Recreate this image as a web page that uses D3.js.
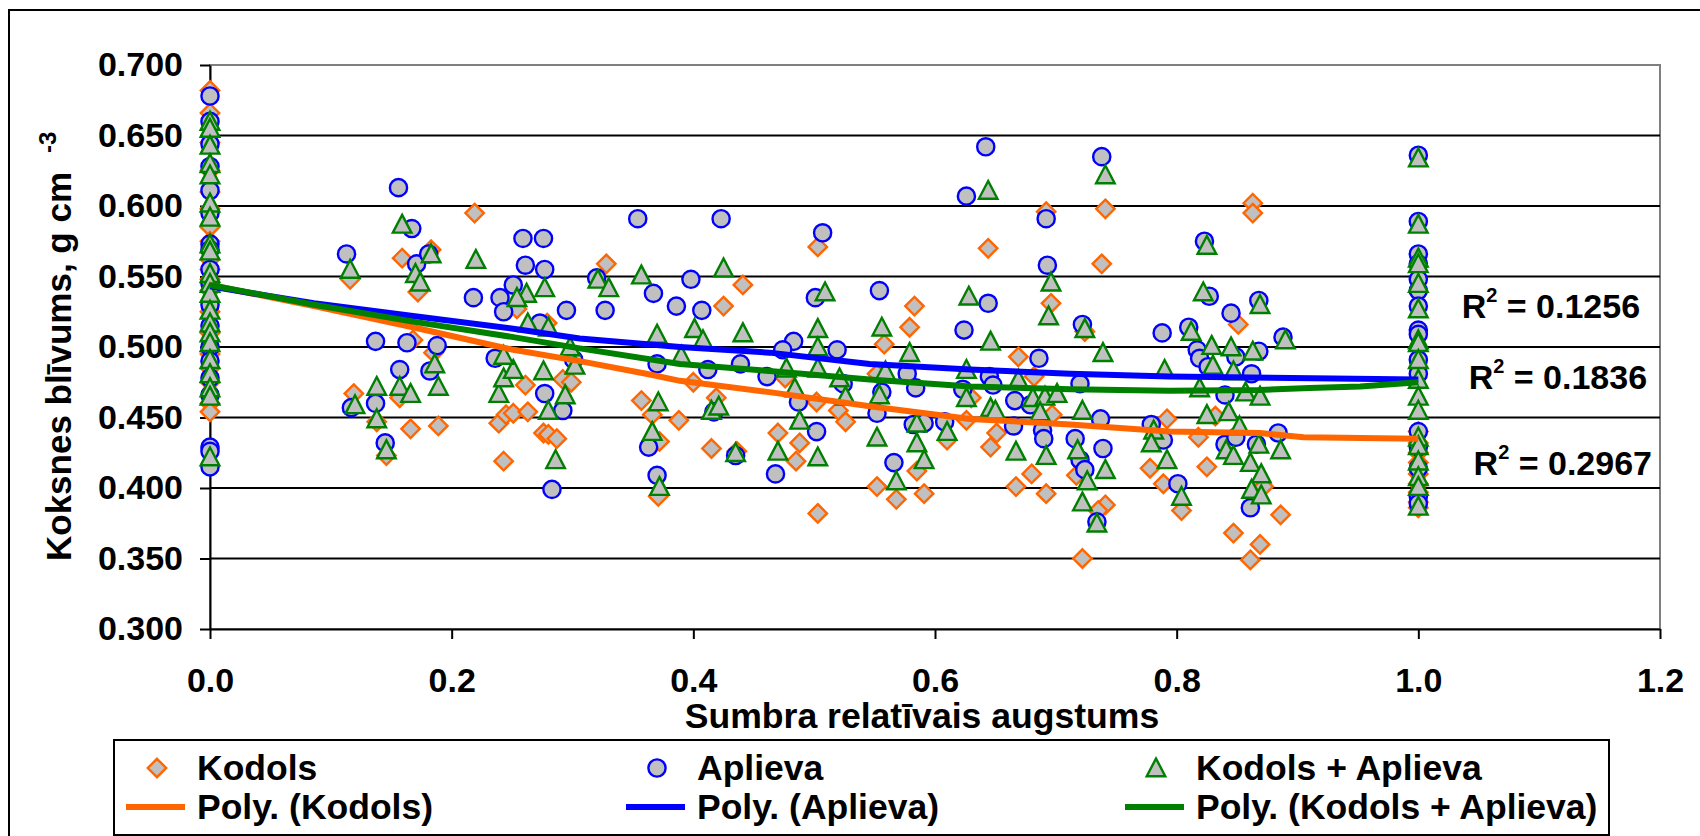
<!DOCTYPE html>
<html>
<head>
<meta charset="utf-8">
<title>Koksnes blīvums pa sumbra augstumu</title>
<script src="https://d3js.org/d3.v7.min.js"></script>
<style>
  body { margin: 0; background: #fff; }
  svg text { font-family: "Liberation Sans", Arial, sans-serif; font-weight: bold; fill: #000; }
</style>
</head>
<body>
<svg width="1700" height="836"></svg>
<script>
// --- data: [relative height, density g/cm3] ---
var kodols = [
  [0,0.682],[0,0.666],[0,0.645],[0,0.625],[0,0.610],[0,0.598],[0,0.585],[0,0.575],[0,0.562],[0,0.555],
  [0,0.548],[0,0.540],[0,0.525],[0,0.510],[0,0.495],[0,0.485],[0,0.475],[0,0.460],[0,0.454],
  [0.219,0.595],[0.159,0.563],[0.183,0.569],[0.172,0.539],[0.116,0.548],[0.254,0.527],[0.328,0.559],
  [0.279,0.517],[0.168,0.505],
  [0.119,0.467],[0.138,0.447],[0.146,0.423],[0.157,0.464],[0.166,0.442],[0.189,0.444],[0.185,0.496],
  [0.239,0.446],[0.245,0.452],[0.251,0.453],[0.263,0.454],[0.243,0.419],[0.261,0.473],[0.276,0.439],
  [0.280,0.438],[0.287,0.435],[0.292,0.477],[0.299,0.475],[0.357,0.462],[0.366,0.452],[0.372,0.433],
  [0.371,0.394],[0.388,0.448],
  [0.441,0.544],[0.425,0.529],[0.503,0.571],[0.583,0.529],[0.579,0.514],[0.644,0.570],[0.692,0.596],
  [0.696,0.531],[0.741,0.598],[0.738,0.559],[0.724,0.511],[0.558,0.502],
  [0.400,0.475],[0.419,0.464],[0.415,0.428],[0.436,0.426],[0.470,0.439],[0.488,0.432],[0.485,0.419],
  [0.503,0.382],[0.476,0.478],[0.502,0.461],[0.520,0.455],[0.526,0.447],[0.552,0.481],[0.552,0.401],
  [0.568,0.392],[0.585,0.412],[0.591,0.396],[0.610,0.434],[0.626,0.448],[0.630,0.464],[0.646,0.429],
  [0.651,0.439],[0.669,0.493],[0.682,0.479],[0.667,0.401],[0.680,0.410],[0.692,0.396],[0.722,0.350],
  [0.741,0.388],[0.735,0.384],[0.778,0.414],[0.789,0.403],[0.792,0.449],[0.717,0.409],[0.697,0.452],
  [0.863,0.602],[0.863,0.595],[0.851,0.516],[0.818,0.436],[0.825,0.415],[0.832,0.451],[0.804,0.384],
  [0.847,0.368],[0.869,0.360],[0.861,0.349],[0.886,0.381],[0.872,0.401],
  [1,0.440],[1,0.432],[1,0.425],[1,0.418],[1,0.410],[1,0.403],[1,0.397],[1,0.390],[1,0.386]
];

var aplieva = [
  [0,0.678],[0,0.660],[0,0.644],[0,0.628],[0,0.611],[0,0.595],[0,0.573],[0,0.569],[0,0.555],[0,0.545],
  [0,0.530],[0,0.515],[0,0.500],[0,0.490],[0,0.478],[0,0.466],[0,0.429],[0,0.426],[0,0.415],
  [0.156,0.613],[0.167,0.584],[0.113,0.566],[0.171,0.559],[0.181,0.566],[0.218,0.535],[0.240,0.535],
  [0.243,0.525],[0.251,0.544],[0.259,0.577],[0.276,0.577],[0.261,0.558],[0.277,0.555],[0.295,0.526],
  [0.320,0.549],[0.327,0.526],[0.354,0.591],[0.367,0.538],[0.386,0.529],[0.273,0.517],[0.137,0.504],
  [0.163,0.503],[0.188,0.501],
  [0.157,0.484],[0.182,0.483],[0.117,0.457],[0.137,0.460],[0.145,0.432],[0.236,0.492],[0.277,0.467],
  [0.292,0.455],[0.283,0.399],[0.370,0.488],[0.363,0.429],[0.370,0.409],[0.301,0.491],
  [0.423,0.591],[0.398,0.548],[0.407,0.526],[0.507,0.581],[0.501,0.535],[0.554,0.540],[0.626,0.607],
  [0.642,0.642],[0.644,0.531],[0.624,0.512],[0.692,0.591],[0.693,0.558],[0.722,0.516],[0.738,0.635],
  [0.788,0.510],[0.483,0.504],[0.474,0.498],[0.519,0.498],
  [0.412,0.484],[0.439,0.488],[0.417,0.454],[0.435,0.423],[0.468,0.410],[0.461,0.479],[0.487,0.461],
  [0.502,0.440],[0.524,0.474],[0.552,0.453],[0.556,0.468],[0.566,0.418],[0.577,0.481],[0.584,0.471],
  [0.582,0.445],[0.591,0.446],[0.608,0.447],[0.623,0.470],[0.645,0.479],[0.648,0.473],[0.666,0.462],
  [0.665,0.444],[0.679,0.459],[0.686,0.492],[0.689,0.441],[0.690,0.435],[0.716,0.435],[0.720,0.474],
  [0.720,0.420],[0.724,0.413],[0.737,0.449],[0.739,0.428],[0.734,0.376],[0.779,0.445],
  [0.823,0.575],[0.827,0.536],[0.868,0.533],[0.845,0.524],[0.810,0.514],[0.888,0.507],[0.817,0.498],
  [0.819,0.492],[0.826,0.486],[0.849,0.493],[0.862,0.481],[0.868,0.497],[0.884,0.439],[0.840,0.466],
  [0.840,0.431],[0.849,0.436],[0.866,0.431],[0.801,0.403],[0.861,0.386],[0.789,0.434],
  [1,0.636],[1,0.589],[1,0.566],[1,0.559],[1,0.548],[1,0.540],[1,0.529],[1,0.512],[1,0.509],[1,0.491],
  [1,0.481],[1,0.440],[1,0.429],[1,0.414],[1,0.394],[1,0.389]
];

var kodolsAplieva = [
  [0,0.660],[0,0.655],[0,0.643],[0,0.630],[0,0.622],[0,0.602],[0,0.592],[0,0.573],[0,0.568],[0,0.552],
  [0,0.545],[0,0.538],[0,0.526],[0,0.517],[0,0.510],[0,0.503],[0,0.491],[0,0.481],[0,0.471],[0,0.465],
  [0,0.422],
  [0.159,0.587],[0.183,0.566],[0.116,0.555],[0.170,0.552],[0.174,0.546],[0.220,0.562],[0.262,0.538],
  [0.254,0.535],[0.277,0.542],[0.321,0.548],[0.330,0.542],[0.357,0.551],[0.263,0.517],[0.280,0.514],
  [0.370,0.509],[0.298,0.500],
  [0.120,0.459],[0.138,0.472],[0.138,0.449],[0.146,0.427],[0.157,0.472],[0.166,0.467],[0.186,0.488],
  [0.189,0.472],[0.239,0.467],[0.243,0.478],[0.251,0.484],[0.243,0.494],[0.276,0.483],[0.280,0.455],
  [0.286,0.420],[0.294,0.466],[0.302,0.487],[0.366,0.440],[0.371,0.461],[0.372,0.401],
  [0.425,0.556],[0.401,0.513],[0.408,0.505],[0.441,0.510],[0.509,0.539],[0.503,0.513],[0.556,0.514],
  [0.628,0.536],[0.644,0.611],[0.646,0.504],[0.696,0.546],[0.694,0.522],[0.724,0.513],[0.741,0.622],
  [0.390,0.494],[0.415,0.455],[0.421,0.458],[0.435,0.425],[0.470,0.426],[0.477,0.485],[0.484,0.471],
  [0.488,0.448],[0.503,0.422],[0.503,0.485],[0.503,0.500],[0.521,0.478],[0.526,0.465],[0.552,0.436],
  [0.554,0.466],[0.559,0.483],[0.568,0.405],[0.579,0.496],[0.585,0.446],[0.585,0.432],[0.591,0.420],
  [0.610,0.440],[0.626,0.484],[0.626,0.464],[0.646,0.457],[0.650,0.455],[0.667,0.426],[0.669,0.477],
  [0.681,0.464],[0.691,0.465],[0.687,0.454],[0.692,0.423],[0.701,0.467],[0.722,0.455],[0.718,0.427],
  [0.726,0.405],[0.722,0.390],[0.734,0.375],[0.741,0.413],[0.739,0.496],[0.781,0.441],[0.779,0.432],
  [0.790,0.484],
  [0.825,0.572],[0.822,0.539],[0.869,0.530],[0.812,0.511],[0.890,0.505],[0.829,0.501],[0.845,0.500],
  [0.863,0.497],[0.830,0.487],[0.847,0.483],[0.819,0.471],[0.857,0.468],[0.869,0.465],[0.825,0.452],
  [0.843,0.454],[0.852,0.444],[0.841,0.427],[0.868,0.431],[0.847,0.423],[0.861,0.418],[0.870,0.410],
  [0.862,0.399],[0.870,0.395],[0.886,0.427],[0.804,0.394],[0.792,0.420],
  [1,0.634],[1,0.587],[1,0.563],[1,0.559],[1,0.545],[1,0.527],[1,0.505],[1,0.503],[1,0.491],[1,0.477],
  [1,0.465],[1,0.455],[1,0.436],[1,0.430],[1,0.419],[1,0.408],[1,0.401],[1,0.387]
];

// polynomial trend lines as drawn in the chart
var kodolsTrend = [[0,0.544],[0.086,0.529],[0.168,0.514],[0.251,0.498],[0.306,0.490],[0.361,0.481],
  [0.389,0.476],[0.463,0.468],[0.546,0.458],[0.629,0.449],[0.712,0.445],[0.794,0.440],[0.869,0.439],
  [0.905,0.436],[1,0.435]];
var aplievaTrend = [[0,0.543],[0.086,0.531],[0.168,0.522],[0.251,0.513],[0.306,0.506],[0.389,0.500],
  [0.463,0.496],[0.546,0.488],[0.629,0.484],[0.712,0.481],[0.794,0.479],[1,0.477]];
var kodolsAplievaTrend = [[0,0.544],[0.086,0.530],[0.168,0.518],[0.251,0.507],[0.306,0.499],
  [0.389,0.488],[0.463,0.483],[0.546,0.477],[0.629,0.472],[0.712,0.470],[0.794,0.469],[0.869,0.4695],
  [0.910,0.471],[0.952,0.472],[1,0.475]];

var rSquared = ["0.1256", "0.1836", "0.2967"];
var rLabelPos = [[1.1835, 0.5206], [1.1893, 0.4702], [1.1934, 0.4092]];

var xTickValues = [0, 0.2, 0.4, 0.6, 0.8, 1.0, 1.2];
var yTickValues = [0.3, 0.35, 0.4, 0.45, 0.5, 0.55, 0.6, 0.65, 0.7];

var seriesNames = ["Kodols", "Aplieva", "Kodols + Aplieva"];

// ---------------------------------------------------------------

var svg = d3.select("svg");

var x = d3.scaleLinear().domain([0, 1.2]).range([210, 1660]);
var y = d3.scaleLinear().domain([0.3, 0.7]).range([629, 65]);

var series = [
  { name: seriesNames[0], data: kodols, trend: kodolsTrend, color: "#FF6600", shape: "diamond" },
  { name: seriesNames[1], data: aplieva, trend: aplievaTrend, color: "#0000FF", shape: "circle" },
  { name: seriesNames[2], data: kodolsAplieva, trend: kodolsAplievaTrend, color: "#008000", shape: "triangle" }
];

var shapes = {
  diamond: "M0,-9.2L9.2,0L0,9.2L-9.2,0Z",
  triangle: "M0,-9.5L9.3,8.3L-9.3,8.3Z"
};

function drawMarker(g, shape, color) {
  if (shape === "circle") {
    g.append("circle").attr("r", 8.6)
      .attr("fill", "#C0C0C0").attr("stroke", color).attr("stroke-width", 2.4);
  } else {
    g.append("path").attr("d", shapes[shape])
      .attr("fill", "#C0C0C0").attr("stroke", color).attr("stroke-width", 2.4)
      .attr("stroke-linejoin", "miter");
  }
}

// outer chart frame (runs off the right and bottom of the page)
svg.append("rect")
  .attr("x", 9).attr("y", 10).attr("width", 1740).attr("height", 880)
  .attr("fill", "#fff").attr("stroke", "#000").attr("stroke-width", 2);

// plot area border
svg.append("rect")
  .attr("x", x(0)).attr("y", y(0.7))
  .attr("width", x(1.2) - x(0)).attr("height", y(0.3) - y(0.7))
  .attr("fill", "none").attr("stroke", "#808080").attr("stroke-width", 2);

// gridlines
svg.append("g").selectAll("line")
  .data(yTickValues.filter(function (d) { return d > 0.3 && d < 0.7; }))
  .enter().append("line")
  .attr("x1", x(0)).attr("x2", x(1.2))
  .attr("y1", function (d) { return y(d); })
  .attr("y2", function (d) { return y(d); })
  .attr("stroke", "#000").attr("stroke-width", 2);

// axes
var yAxis = svg.append("g")
  .attr("transform", "translate(" + x(0) + ",0)")
  .call(d3.axisLeft(y).tickValues(yTickValues).tickFormat(d3.format(".3f"))
    .tickSizeInner(10).tickSizeOuter(0).tickPadding(17));

var xAxis = svg.append("g")
  .attr("transform", "translate(0," + y(0.3) + ")")
  .call(d3.axisBottom(x).tickValues(xTickValues).tickFormat(d3.format(".1f"))
    .tickSizeInner(10).tickSizeOuter(0).tickPadding(29));

[yAxis, xAxis].forEach(function (ax) {
  ax.selectAll("path, line").attr("stroke", "#000").attr("stroke-width", 2);
  ax.selectAll("text").attr("font-size", 34);
});

// scatter markers
series.forEach(function (s) {
  var g = svg.append("g");
  s.data.forEach(function (d) {
    var m = g.append("g").attr("transform", "translate(" + x(d[0]) + "," + y(d[1]) + ")");
    drawMarker(m, s.shape, s.color);
  });
});

// trend lines
var line = d3.line()
  .x(function (d) { return x(d[0]); })
  .y(function (d) { return y(d[1]); });

series.forEach(function (s) {
  svg.append("path")
    .datum(s.trend)
    .attr("d", line)
    .attr("fill", "none")
    .attr("stroke", s.color)
    .attr("stroke-width", 6)
    .attr("stroke-linejoin", "round");
});

// R squared labels
rSquared.forEach(function (r, i) {
  var t = svg.append("text")
    .attr("x", x(rLabelPos[i][0])).attr("y", y(rLabelPos[i][1]))
    .attr("text-anchor", "end").attr("font-size", 34);
  t.append("tspan").text("R");
  t.append("tspan").attr("font-size", 20).attr("dy", -16).text("2");
  t.append("tspan").attr("dy", 16).text(" = " + r);
});

// axis titles
svg.append("text")
  .attr("x", 922).attr("y", 728)
  .attr("text-anchor", "middle").attr("font-size", 35.6)
  .text("Sumbra relatīvais augstums");

var yTitle = svg.append("text")
  .attr("transform", "translate(71,561) rotate(-90)")
  .attr("font-size", 35);
yTitle.append("tspan").text("Koksnes blīvums, g cm");
yTitle.append("tspan").attr("dx", 19).attr("dy", -15).attr("font-size", 24).text("-3");

// legend
var legend = svg.append("g");
legend.append("rect")
  .attr("x", 114).attr("y", 740).attr("width", 1495).attr("height", 95)
  .attr("fill", "#fff").attr("stroke", "#000").attr("stroke-width", 2);

var legendCols = [126, 626, 1125];
series.forEach(function (s, i) {
  var cx = legendCols[i];
  var m = legend.append("g").attr("transform", "translate(" + (cx + 31) + ",768)");
  drawMarker(m, s.shape, s.color);
  legend.append("text").attr("x", cx + 71).attr("y", 780).attr("font-size", 35.5).text(s.name);

  legend.append("line")
    .attr("x1", cx).attr("x2", cx + 59).attr("y1", 807).attr("y2", 807)
    .attr("stroke", s.color).attr("stroke-width", 6);
  legend.append("text").attr("x", cx + 71).attr("y", 819).attr("font-size", 35.5)
    .text("Poly. (" + s.name + ")");
});
</script>
</body>
</html>
